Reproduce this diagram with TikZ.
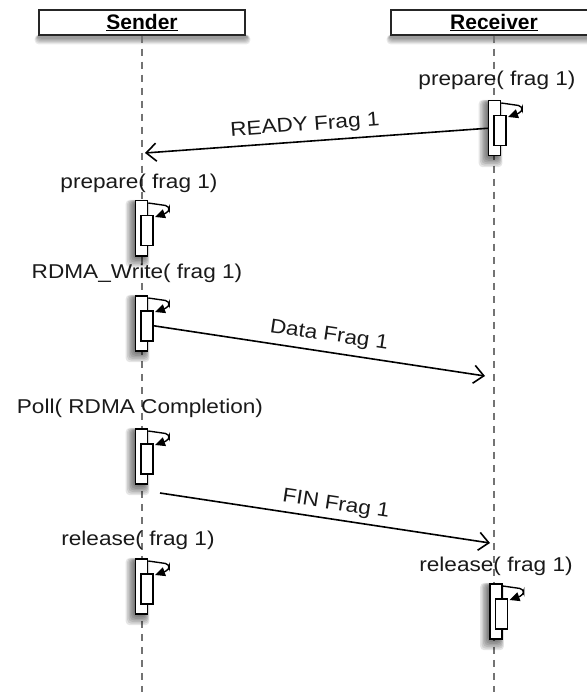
\documentclass[tikz,border=0pt]{standalone}
\usepackage{fontspec}
\usepackage{graphicx}
\setmainfont{Liberation Sans}
\usetikzlibrary{arrows.meta}

\newcommand\lbl[1]{\scalebox{1.13}[1]{#1}}
\newcommand\activation[3]{%
  \foreach \i in {1,...,7} {\fill[black,opacity=0.1,rounded corners=4pt] (#2-6-\i*1.4, #3+2-\i*0.3) rectangle (#2+3+\i*0.7, #3+56+\i*1.6);}
  \node[actout,anchor=north] (#1) at (#2,#3) {};
  \node[actin,anchor=north west] (#1i) at ([xshift=-1.5pt,yshift=-15pt]#1.north) {};
  \draw[selfarr,rounded corners=4pt] ([yshift=-3pt]#1.north east) -- ++(21,3) -- ++(0,6) -- ([xshift=1.5pt,yshift=-2pt]#1i.north east);
}
\newcommand\headshadow[1]{%
  \foreach \i in {1,...,6} {\fill[black,opacity=0.08,rounded corners=4pt] ([xshift=-\i*0.6pt,yshift=1pt]#1.south west) rectangle ([xshift=\i*0.6pt+1pt,yshift=-2pt-\i*1.1pt]#1.south east);}
}

\begin{document}
\begin{tikzpicture}[x=1pt,y=-1pt,
 lifeline/.style={draw=black!55, line width=2.6pt, dash pattern=on 7pt off 6pt},
 header/.style={draw=black!85, line width=1.5pt, fill=white, minimum width=206pt, minimum height=25pt, inner sep=0pt,
   font=\fontsize{21}{22}\selectfont\bfseries},
 actout/.style={draw=black, line width=1.5pt, fill=white, minimum width=12pt, minimum height=55pt, inner sep=0pt},
 actin/.style={draw=black, line width=1.5pt, fill=white, minimum width=12pt, minimum height=30pt, inner sep=0pt},
 lab/.style={font=\fontsize{20}{22}\selectfont, inner sep=0pt, text=black!90},
 msg/.style={line width=1.6pt, -{Straight Barb[length=10pt,width=18pt,line width=1.6pt]}},
 selfarr/.style={line width=1.4pt, -{Triangle[length=10pt,width=9pt]}},
]
\useasboundingbox (0,0) rectangle (586,692);
\coordinate (bottom) at (0,692);

\node[header,draw=none,fill=none] (senderpos) at (142,22.5) {};
\node[header,draw=none,fill=none] (receiverpos) at (494,22.5) {};
\headshadow{senderpos}
\headshadow{receiverpos}
\node[header] (sender) at (142,22.5) {\underline{Sender}};
\node[header] (receiver) at (494,22.5) {\underline{Receiver}};

\draw[lifeline] (sender.south) -- (sender.south |- bottom);
\draw[lifeline] (receiver.south) -- (receiver.south |- bottom);

\activation{r1}{494.5}{100}
\activation{s1}{141.5}{200}
\activation{s2}{141.5}{295}
\activation{s3}{141.5}{428}
\activation{s4}{141.5}{558}
\activation{r2}{496}{583}

\node[lab] (lr1) at (497,80) {\lbl{prepare( frag 1)}};
\node[lab] (ls1) at (139,183) {\lbl{prepare( frag 1)}};
\node[lab] (ls2) at (137,273) {\lbl{RDMA\_Write( frag 1)}};
\node[lab] (ls3) at (140,408) {\lbl{Poll( RDMA Completion)}};
\node[lab] (ls4) at (138,540) {\lbl{release( frag 1)}};
\node[lab] (lr2) at (496,566) {\lbl{release( frag 1)}};

\coordinate (readyEnd) at (145,153);
\coordinate (dataEnd) at (485,376);
\coordinate (finStart) at (160,493);
\coordinate (finEnd) at (490,543);

\draw[msg] (r1.west) -- (readyEnd);
\draw[msg] (s2i.east) -- (dataEnd);
\draw[msg] (finStart) -- (finEnd);

\node[lab, rotate=4.2] (mready) at (305,126) {\lbl{READY Frag 1}};
\node[lab, rotate=-8.4] (mdata) at (329,336) {\lbl{Data Frag 1}};
\node[lab, rotate=-8.6] (mfin) at (336,505) {\lbl{FIN Frag 1}};
\end{tikzpicture}
\end{document}
